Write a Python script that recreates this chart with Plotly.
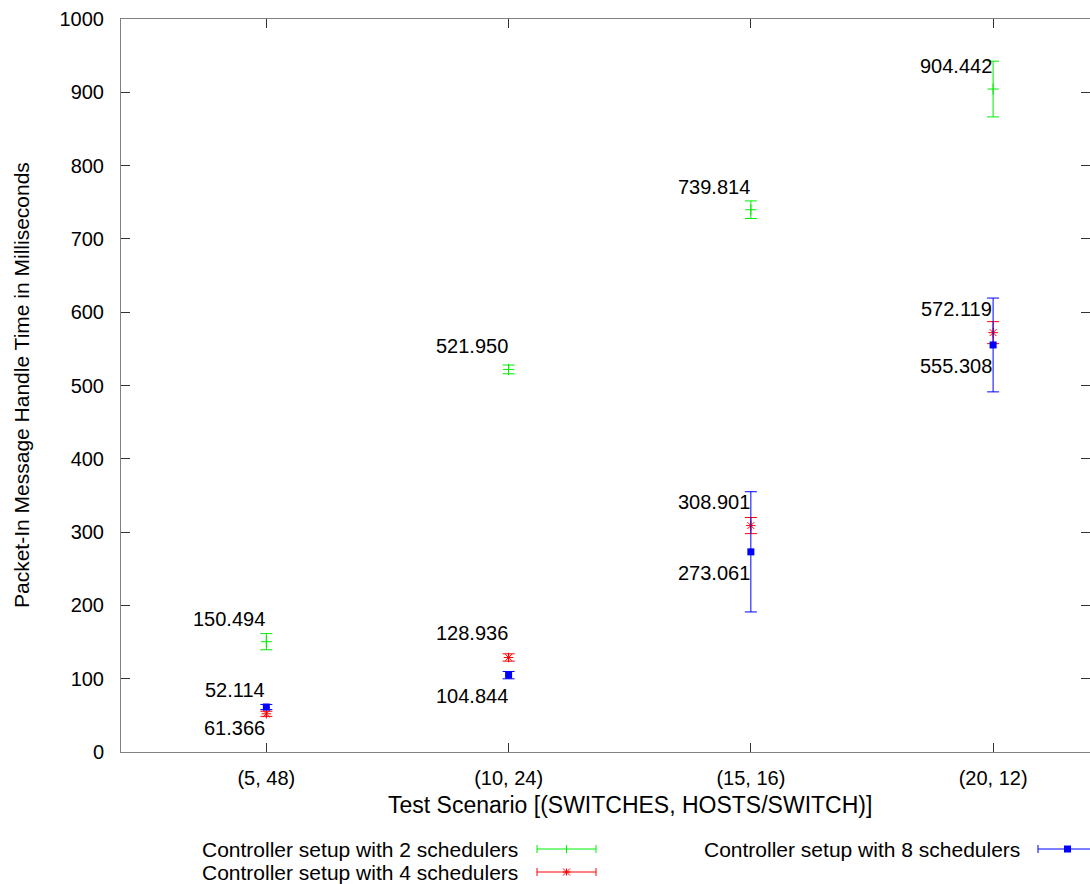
import plotly.graph_objects as go

# ---------------- data ----------------
categories = ["(5, 48)", "(10, 24)", "(15, 16)", "(20, 12)"]
x_pos = [1, 2, 3, 4]

series_names = [
    "Controller setup with 2 schedulers",
    "Controller setup with 4 schedulers",
    "Controller setup with 8 schedulers",
]
sched2_mean = [150.494, 521.950, 739.814, 904.442]
sched2_err = [11, 6, 12, 38]
sched4_mean = [52.114, 128.936, 308.901, 572.119]
sched4_err = [3.5, 5, 11, 15]
sched8_mean = [61.366, 104.844, 273.061, 555.308]
sched8_err = [3.5, 5, 82, 64]

y_ticks = [0, 100, 200, 300, 400, 500, 600, 700, 800, 900, 1000]

# ---------------- style ----------------
GREEN = "#00ee00"
RED = "#ff0000"
BLUE = "#0000ff"
FONT = "Liberation Sans, Arial, Helvetica, sans-serif"

W, H = 1090, 884
ML, MR, MT, MB = 121, 0, 19, 132
PW = W - ML - MR
PH = H - MT - MB


def px(xp):
    return (xp - ML) / PW


def py(yp):
    return (H - MB - yp) / PH


fig = go.Figure()

series = [
    (sched2_mean, sched2_err, GREEN, dict(symbol="cross-thin", size=8, line=dict(color=GREEN, width=1))),
    (sched4_mean, sched4_err, RED, dict(symbol="asterisk", size=8, line=dict(color=RED, width=1))),
    (sched8_mean, sched8_err, BLUE, dict(symbol="square", size=7, line=dict(width=0))),
]

for name, (mean, err, col, mk) in zip(series_names, series):
    fig.add_trace(go.Scatter(
        x=x_pos, y=mean, name=name, mode="markers",
        marker=dict(color=col, **mk),
        error_y=dict(type="data", array=err, visible=True, color=col, thickness=1, width=6),
        showlegend=False, hoverinfo="skip",
    ))

annotations = []
# value labels: green & red above, blue below
for mean, shift in [(sched2_mean, 23), (sched4_mean, 24), (sched8_mean, -21)]:
    for xv, yv in zip(x_pos, mean):
        annotations.append(dict(
            x=xv, y=yv, xref="x", yref="y", text=f"{yv:.3f}", showarrow=False,
            xanchor="right", yanchor="middle", yshift=shift, xshift=1,
            font=dict(family=FONT, size=20, color="black"),
        ))

# axis titles
annotations.append(dict(
    x=px(21), y=py(385), xref="paper", yref="paper", showarrow=False,
    text="Packet-In Message Handle Time in Milliseconds", textangle=-90,
    xanchor="center", yanchor="middle", font=dict(family=FONT, size=21, color="black"),
))
annotations.append(dict(
    x=px(630), y=py(805), xref="paper", yref="paper", showarrow=False,
    text="Test Scenario [(SWITCHES, HOSTS/SWITCH)]",
    xanchor="center", yanchor="middle", font=dict(family=FONT, size=23, color="black"),
))

# custom legend
shapes = []
legend_rows = [
    (series_names[0], 520, 849, 537, 596, GREEN, "plus"),
    (series_names[1], 520, 872, 537, 596, RED, "star"),
    (series_names[2], 1022, 849, 1038, 1097, BLUE, "square"),
]
for text, tx, ty, x0, x1, col, mk in legend_rows:
    annotations.append(dict(
        x=px(tx), y=py(ty), xref="paper", yref="paper", showarrow=False, text=text,
        xanchor="right", yanchor="middle", font=dict(family=FONT, size=21, color="black"),
    ))
    line = dict(color=col, width=1)
    shapes.append(dict(type="line", xref="paper", yref="paper", x0=px(x0), x1=px(x1), y0=py(ty), y1=py(ty), line=line))
    for xc in (x0, x1):
        shapes.append(dict(type="line", xref="paper", yref="paper", x0=px(xc), x1=px(xc), y0=py(ty - 4), y1=py(ty + 4), line=line))
    xm = (x0 + x1) / 2
    if mk == "plus":
        shapes.append(dict(type="line", xref="paper", yref="paper", x0=px(xm), x1=px(xm), y0=py(ty - 4), y1=py(ty + 4), line=line))
    elif mk == "star":
        r = 3.5
        for dx, dy in [(0, r), (r, 0), (r, r), (r, -r)]:
            shapes.append(dict(type="line", xref="paper", yref="paper", x0=px(xm - dx), x1=px(xm + dx),
                               y0=py(ty - dy), y1=py(ty + dy), line=line))
    else:
        shapes.append(dict(type="rect", xref="paper", yref="paper", x0=px(xm - 3.5), x1=px(xm + 3.5),
                           y0=py(ty - 3.5), y1=py(ty + 3.5), line=dict(width=0), fillcolor=col))

axis_common = dict(
    showline=True, linecolor="#808080", linewidth=1, mirror="ticks",
    ticks="inside", ticklen=9, tickcolor="#333333", tickwidth=1,
    showgrid=False, zeroline=False,
    tickfont=dict(family=FONT, size=20, color="black"),
)

fig.update_layout(
    width=W, height=H,
    margin=dict(l=ML, r=MR, t=MT, b=MB),
    paper_bgcolor="white", plot_bgcolor="white",
    xaxis=dict(range=[0.4, 4.4], tickvals=x_pos, ticktext=categories, ticklabelstandoff=8, **axis_common),
    yaxis=dict(range=[0, 1000], tickvals=y_ticks, ticklabelstandoff=12, **axis_common),
    annotations=annotations, shapes=shapes,
    showlegend=False,
)

fig.write_html(
    "out.html",
    config={"displayModeBar": False},
    post_script="document.body.style.margin='0';document.body.style.padding='0';document.body.style.overflow='hidden';",
)
